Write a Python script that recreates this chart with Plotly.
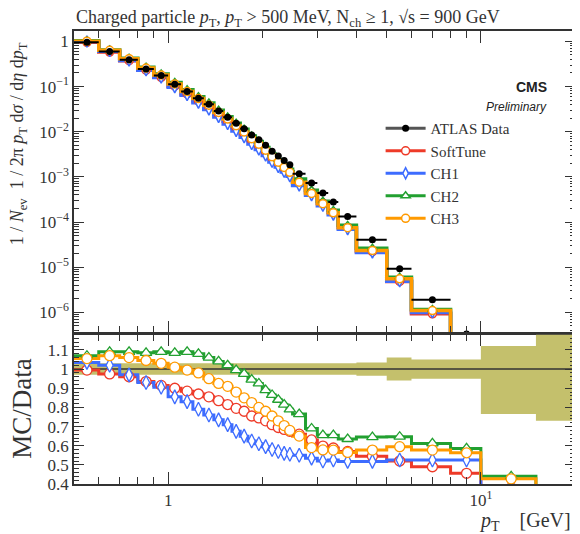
import plotly.graph_objects as go
import numpy as np

# ---------------- data ----------------
edges = [0.5, 0.6, 0.7, 0.8, 0.9, 1.0, 1.1, 1.2, 1.3, 1.4, 1.5, 1.6, 1.7, 1.8, 1.9, 2.0,
         2.1, 2.2, 2.3, 2.4, 2.5, 2.75, 3.0, 3.25, 3.5, 4.0, 5.0, 6.0, 8.0, 10.0, 15.0, 20.0]

atlas = [0.96, 0.595, 0.39, 0.246, 0.175, 0.113, 0.0776, 0.0553, 0.0407, 0.0289,
         0.0209, 0.0154, 0.0116, 0.0085, 0.0066, 0.0050, 0.0037, 0.0029, 0.0023, 0.00186,
         0.00117, 0.00073, 0.00044, 0.000277, 0.000133, 4.07e-5, 9.3e-6, 1.9e-6, 3.3e-7,
         6e-8, 1e-8]

err_hi = [0.03] * 24 + [0.03, 0.035, 0.06, 0.05, 0.05, 0.12, 0.18]
err_lo = [0.03] * 24 + [0.03, 0.035, 0.06, 0.05, 0.05, 0.235, 0.27]

# MC / Data ratios (bins up to 15 GeV)
r_softtune = [0.995, 0.975, 0.96, 0.935, 0.915, 0.90, 0.885, 0.87, 0.855, 0.835,
              0.815, 0.795, 0.78, 0.755, 0.745, 0.73, 0.71, 0.695, 0.685, 0.675,
              0.66, 0.63, 0.598, 0.588, 0.57, 0.545, 0.52, 0.49, 0.456, 0.38]
r_ch1 = [1.035, 1.02, 0.97, 0.93, 0.905, 0.855, 0.83, 0.79, 0.76, 0.735,
         0.71, 0.675, 0.65, 0.625, 0.61, 0.595, 0.58, 0.57, 0.56, 0.555,
         0.55, 0.535, 0.52, 0.525, 0.518, 0.518, 0.525, 0.525, 0.525, 0.39]
r_ch2 = [1.07, 1.09, 1.09, 1.085, 1.09, 1.085, 1.09, 1.08, 1.06, 1.04,
         1.02, 0.995, 0.975, 0.945, 0.925, 0.89, 0.865, 0.84, 0.815, 0.79,
         0.765, 0.69, 0.655, 0.655, 0.635, 0.645, 0.647, 0.612, 0.586, 0.44]
r_ch3 = [1.055, 1.07, 1.06, 1.045, 1.03, 1.01, 0.995, 0.98, 0.95, 0.925,
         0.91, 0.88, 0.85, 0.825, 0.80, 0.78, 0.755, 0.73, 0.705, 0.68,
         0.65, 0.59, 0.578, 0.577, 0.565, 0.577, 0.595, 0.577, 0.563, 0.427]

names = ["SoftTune", "CH1", "CH2", "CH3"]
ratios = [r_softtune, r_ch1, r_ch2, r_ch3]
colors = ["#ee3a28", "#3d6cff", "#22a030", "#ff9a00"]
symbols = ["circle", "diamond-tall", "triangle-up", "circle"]

# ---------------- derived ----------------
e = np.array(edges)
centers = (e[:-1] + e[1:]) / 2
atl = np.array(atlas)
nmc = len(r_softtune)

SERIF = "Liberation Serif"
TXT = "#333333"
fig = go.Figure()

# ---- top panel MC ----
for nm, r, c, s in zip(names, ratios, colors, symbols):
    mc = atl[:nmc] * np.array(r)
    fig.add_trace(go.Scatter(x=e[:nmc + 1], y=list(mc) + [mc[-1] * 1e-3], mode="lines",
                             line=dict(color=c, width=3.5, shape="hv"),
                             showlegend=False, xaxis="x", yaxis="y", hoverinfo="skip"))
for nm, r, c, s in zip(names, ratios, colors, symbols):
    mc = atl[:nmc] * np.array(r)
    fig.add_trace(go.Scatter(x=centers[:nmc], y=mc, mode="markers",
                             marker=dict(symbol=s, size=8, color="white",
                                         line=dict(color=c, width=1.5)),
                             showlegend=False, xaxis="x", yaxis="y"))

# ---- ATLAS data ----
fig.add_trace(go.Scatter(x=centers, y=atl, mode="markers",
                         marker=dict(symbol="circle", size=7, color="black"),
                         error_x=dict(type="data", symmetric=False,
                                      array=e[1:] - centers, arrayminus=centers - e[:-1],
                                      color="black", thickness=2, width=0),
                         error_y=dict(type="percent", value=4, color="black", thickness=2, width=0),
                         showlegend=False, xaxis="x", yaxis="y"))

# ---- ratio panel band ----
fig.add_trace(go.Scatter(x=e, y=[1 - v for v in err_lo] + [1 - err_lo[-1]], mode="lines",
                         line=dict(color="rgba(0,0,0,0)", width=0, shape="hv"),
                         showlegend=False, xaxis="x2", yaxis="y2", hoverinfo="skip"))
fig.add_trace(go.Scatter(x=e, y=[1 + v for v in err_hi] + [1 + err_hi[-1]], mode="lines",
                         line=dict(color="rgba(0,0,0,0)", width=0, shape="hv"),
                         fill="tonexty", fillcolor="#c4c06c",
                         showlegend=False, xaxis="x2", yaxis="y2", hoverinfo="skip"))
fig.add_trace(go.Scatter(x=[e[0], e[-1]], y=[1, 1], mode="lines",
                         line=dict(color="#333333", width=1.5),
                         showlegend=False, xaxis="x2", yaxis="y2", hoverinfo="skip"))

for nm, r, c, s in zip(names, ratios, colors, symbols):
    fig.add_trace(go.Scatter(x=e[:nmc + 1], y=list(r) + [0.0], mode="lines",
                             line=dict(color=c, width=3, shape="hv"),
                             showlegend=False, xaxis="x2", yaxis="y2", hoverinfo="skip"))
for nm, r, c, s in zip(names, ratios, colors, symbols):
    fig.add_trace(go.Scatter(x=centers[:nmc], y=r, mode="markers",
                             marker=dict(symbol=s, size=10, color="white",
                                         line=dict(color=c, width=1.3)),
                             showlegend=False, xaxis="x2", yaxis="y2"))

# ---- legend entries ----
fig.add_trace(go.Scatter(x=[None], y=[None], mode="lines+markers", name="ATLAS Data",
                         line=dict(color="#555555", width=3),
                         marker=dict(symbol="circle", size=7, color="black"),
                         xaxis="x", yaxis="y"))
for nm, c, s in zip(names, colors, symbols):
    fig.add_trace(go.Scatter(x=[None], y=[None], mode="lines+markers", name=nm,
                             line=dict(color=c, width=3),
                             marker=dict(symbol=s, size=8, color="white", line=dict(color=c, width=1.5)),
                             xaxis="x", yaxis="y"))

# ---------------- axes ----------------
decades_minor = [m * 10 ** k for k in range(-7, 1) for m in range(2, 10)]
x_minor = [0.6, 0.7, 0.8, 0.9, 2, 3, 4, 5, 6, 7, 8, 9, 20]
axcol = "#333333"
tickfont = dict(family=SERIF, size=17, color=TXT)

common_x = dict(type="log", range=[np.log10(0.5), np.log10(20)], showgrid=False, zeroline=False,
                showline=True, linecolor=axcol, linewidth=1.5, mirror="allticks",
                ticks="inside", ticklen=12, tickwidth=1.2, tickcolor=axcol,
                tickvals=[1, 10], minor=dict(tickvals=x_minor, ticks="inside", ticklen=7,
                                             tickcolor=axcol, tickwidth=1.2),
                tickfont=tickfont)

# page body has an 8px margin: figure is 572x526 so it fills the 580x534 window
fig.update_layout(
    width=572, height=526,
    margin=dict(l=66, r=3, t=23, b=50),
    paper_bgcolor="white", plot_bgcolor="white",
    xaxis=dict(**common_x, domain=[0, 1], anchor="y", showticklabels=False),
    xaxis2=dict(**common_x, domain=[0, 1], anchor="y2", matches="x",
                ticktext=["1", "10<sup>1</sup>"]),
    yaxis=dict(type="log", range=[-6.45, 0.23], domain=[0.334, 1], anchor="x",
               showgrid=False, zeroline=False, showline=True, linecolor=axcol, linewidth=1.5,
               mirror="allticks", ticks="inside", ticklen=10, tickwidth=1.2, tickcolor=axcol,
               tickvals=[1e-6, 1e-5, 1e-4, 1e-3, 1e-2, 1e-1, 1],
               ticktext=["10<sup>−6</sup>", "10<sup>−5</sup>", "10<sup>−4</sup>", "10<sup>−3</sup>",
                         "10<sup>−2</sup>", "10<sup>−1</sup>", "1"],
               minor=dict(tickvals=decades_minor, ticks="inside", ticklen=5,
                          tickcolor=axcol, tickwidth=1),
               tickfont=tickfont),
    yaxis2=dict(range=[0.4, 1.183], domain=[0, 0.331], anchor="x2",
                showgrid=False, zeroline=False, showline=True, linecolor=axcol, linewidth=1.5,
                mirror="allticks", ticks="inside", ticklen=10, tickwidth=1.2, tickcolor=axcol,
                tickvals=[0.4, 0.5, 0.6, 0.7, 0.8, 0.9, 1.0, 1.1],
                ticktext=["0.4", "0.5", "0.6", "0.7", "0.8", "0.9", "1", "1.1"],
                minor=dict(dtick=0.02, tick0=0.4, ticks="inside", ticklen=5,
                           tickcolor=axcol, tickwidth=1),
                tickfont=tickfont),
    legend=dict(x=0.612, y=0.821, xanchor="left", yanchor="top", traceorder="normal",
                font=dict(family=SERIF, size=15, color=TXT),
                bgcolor="rgba(0,0,0,0)", itemwidth=40, tracegroupgap=0),
    showlegend=True,
)

fig.add_annotation(text="Charged particle <i>p</i><sub>T</sub>, <i>p</i><sub>T</sub> > 500 MeV, "
                        "N<sub>ch</sub> ≥ 1, √s = 900 GeV",
                   xref="paper", yref="paper", x=0, y=1.027, xanchor="left", yanchor="middle",
                   showarrow=False, font=dict(family=SERIF, size=18, color=TXT))
fig.add_annotation(text="<b>CMS</b>", xref="paper", yref="paper", x=0.948, y=0.876,
                   xanchor="right", yanchor="middle", showarrow=False,
                   font=dict(family="Liberation Sans", size=14, color="#222222"))
fig.add_annotation(text="<i>Preliminary</i>", xref="paper", yref="paper", x=0.948, y=0.832,
                   xanchor="right", yanchor="middle", showarrow=False,
                   font=dict(family="Liberation Sans", size=12, color="#222222"))
fig.add_annotation(text="1 / <i>N</i><sub>ev</sub>  1 / 2π <i>p</i><sub>T</sub> d<i>σ</i> / d<i>η</i> d<i>p</i><sub>T</sub>",
                   xref="paper", yref="paper", x=0, y=0.75, xshift=-56, textangle=-90,
                   xanchor="center", yanchor="middle", showarrow=False,
                   font=dict(family=SERIF, size=18, color=TXT))
fig.add_annotation(text="MC/Data", xref="paper", yref="paper", x=0, y=0.166, xshift=-52,
                   textangle=-90, xanchor="center", yanchor="middle", showarrow=False,
                   font=dict(family=SERIF, size=27, color=TXT))
fig.add_annotation(text="<i>p</i><sub>T</sub>    [GeV]", xref="paper", yref="paper", x=0.996, y=-0.082,
                   xanchor="right", yanchor="middle", showarrow=False,
                   font=dict(family=SERIF, size=20, color=TXT))

fig.write_html("out.html")
